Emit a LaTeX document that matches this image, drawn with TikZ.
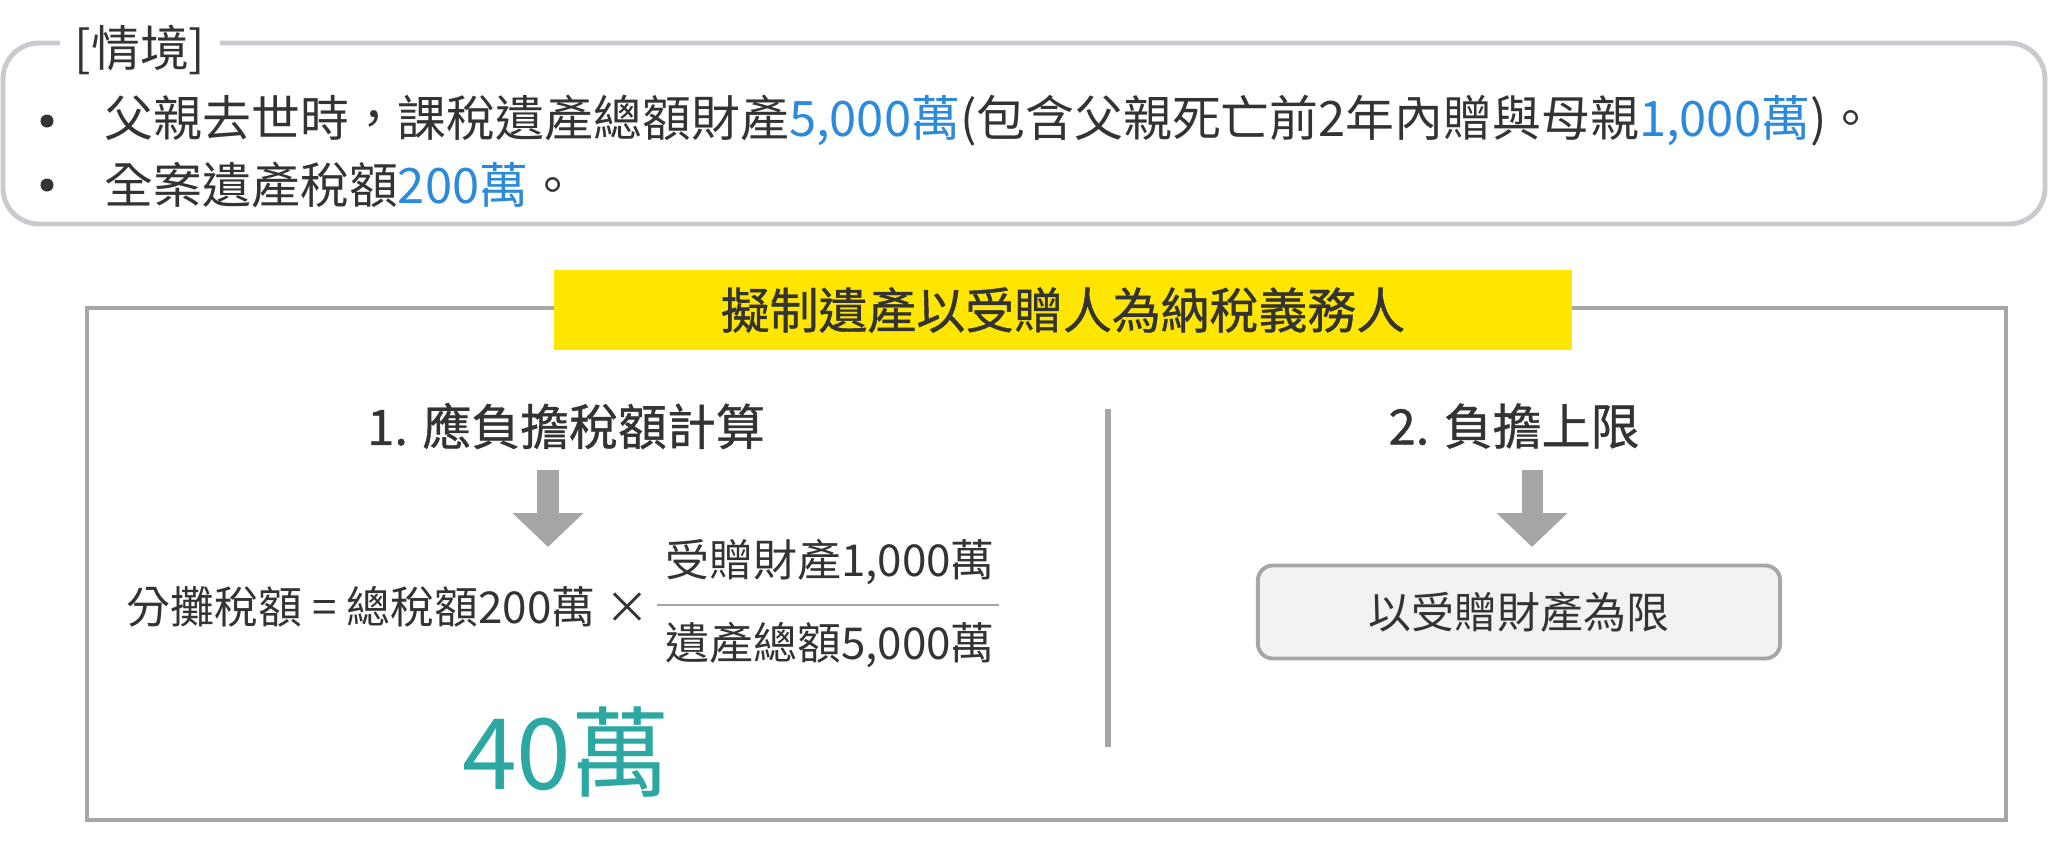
\documentclass[tikz,border=0pt]{standalone}
\usepackage{fontspec}
\setmainfont{Noto Sans CJK TC}
\newfontfamily\medfont{Noto Sans CJK TC}[FakeBold=0.8]
\usetikzlibrary{arrows.meta}
\definecolor{txtdark}{HTML}{333333}
\definecolor{numblue}{HTML}{2B8ADB}
\definecolor{resteal}{HTML}{2BA8A2}
\definecolor{banyellow}{HTML}{FFE600}
\definecolor{framegray}{HTML}{A6A6A6}
\definecolor{scengray}{HTML}{C9C9CF}
\definecolor{boxfill}{HTML}{F2F2F2}
\newcommand\bodysize{\fontsize{13.9pt}{16pt}\selectfont}
\newcommand\formsize{\fontsize{12.5pt}{15pt}\selectfont}
\begin{document}
\begin{tikzpicture}[x=0.01cm,y=-0.01cm,
  every node/.style={text=txtdark,inner sep=0pt},
  bodytext/.style={font=\bodysize},
  bulletdot/.style={circle,fill=txtdark,minimum size=0.13cm},
  headtext/.style={font=\medfont\bodysize},
  formtext/.style={font=\formsize},
  downarrow/.style={draw=framegray,line width=0.21cm,-{Triangle[width=0.69cm,length=0.34cm]}}]
  \useasboundingbox (0,0) rectangle (2048,859);
  % scenario
  \draw[scengray,line width=1.4pt,rounded corners=0.36cm] (3,43) rectangle (2045,224);
  \node[bodytext,fill=white,inner xsep=0.15cm] (scen) at (140,50) {[情境]};
  \node[bodytext,anchor=west] (t1) at (104,121) {父親去世時，課稅遺產總額財產\textcolor{numblue}{5,000萬}(包含父親死亡前2年內贈與母親\textcolor{numblue}{1,000萬})。};
  \node[bodytext,anchor=west] (t2) at (104,185) {全案遺產稅額\textcolor{numblue}{200萬}。};
  \node[bulletdot] (b1) at (47,0 |- t1.west) {};
  \node[bulletdot] (b2) at (47,0 |- t2.west) {};
  % main frame
  \draw[framegray,line width=1pt] (87,308) rectangle (2006,820);
  \node[headtext,fill=banyellow,minimum width=10.18cm,minimum height=0.8cm] (title) at (1063,310) {擬制遺產以受贈人為納稅義務人};
  % left part
  \node[headtext] (head1) at (566,426) {1. 應負擔稅額計算};
  \coordinate (a1s) at (548,470);
  \coordinate (a1e) at (548,547);
  \draw[downarrow] (a1s) -- (a1e);
  \node[formtext,anchor=east] (share) at (650,607) {分攤稅額 = 總稅額200萬 ×};
  \node[formtext] (num) at (830,562) {受贈財產1,000萬};
  \node[formtext] (den) at (830,645) {遺產總額5,000萬};
  \draw[framegray,line width=0.4pt] (657,605) -- (999,605);
  \node[font=\fontsize{28pt}{32pt}\selectfont,text=resteal] (res) at (566,752) {40萬};
  % divider
  \draw[framegray,line width=1.6pt] (1108,409) -- (1108,747);
  % right part
  \node[headtext] (head2) at (1514,426) {2. 負擔上限};
  \coordinate (a2s) at (1532,470);
  \coordinate (a2e) at (1532,547);
  \draw[downarrow] (a2s) -- (a2e);
  \node[font=\fontsize{12.2pt}{15pt}\selectfont,draw=framegray,line width=1.1pt,fill=boxfill,rounded corners=0.15cm,
    minimum width=5.22cm,minimum height=0.93cm] (limit) at (1519,612) {以受贈財產為限};
\end{tikzpicture}
\end{document}
